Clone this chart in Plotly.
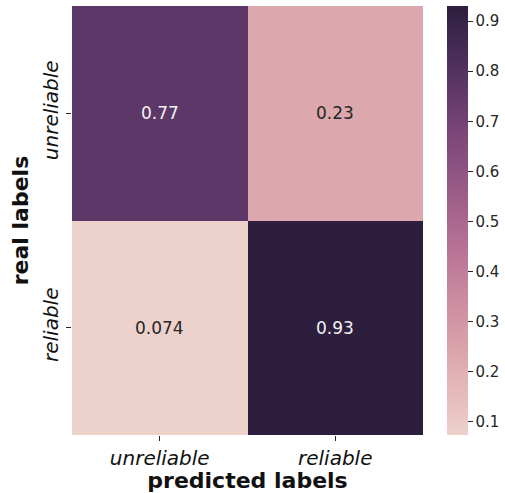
import numpy as np
import plotly.graph_objects as go

# Confusion matrix (row-normalised)
pred_labels = ["unreliable", "reliable"]
real_labels = ["unreliable", "reliable"]
row_unreliable = [0.77, 0.23]
row_reliable = [0.074, 0.93]
cbar_ticks = [0.1, 0.2, 0.3, 0.4, 0.5, 0.6, 0.7, 0.8, 0.9]

z = [row_unreliable, row_reliable]


def cubehelix_scale(n=21, start=0.0, rot=0.4, gamma=1.0, hue=0.8, light=0.85, dark=0.15):
    """Seaborn-style cubehelix palette as a Plotly colorscale (light -> dark)."""
    def chan(p0, p1, x):
        xg = x ** gamma
        a = hue * xg * (1 - xg) / 2
        phi = 2 * np.pi * (start / 3 + rot * x)
        return np.clip(xg + a * (p0 * np.cos(phi) + p1 * np.sin(phi)), 0, 1)

    scale = []
    for t in np.linspace(0, 1, n):
        x = light + (dark - light) * t
        r = chan(-0.14861, 1.78277, x)
        g = chan(-0.29227, -0.90649, x)
        b = chan(1.97294, 0.0, x)
        scale.append([float(t), "rgb(%d,%d,%d)" % (round(r * 255), round(g * 255), round(b * 255))])
    return scale


zmin = min(min(r) for r in z)
zmax = max(max(r) for r in z)

fig = go.Figure(
    go.Heatmap(
        z=z,
        x=pred_labels,
        y=real_labels,
        zmin=zmin,
        zmax=zmax,
        colorscale=cubehelix_scale(),
        xgap=0,
        ygap=0,
        hoverinfo="skip",
        colorbar=dict(
            x=(447 - 72) / 352,
            xanchor="left",
            xpad=0,
            y=0.5,
            yanchor="middle",
            len=1,
            ypad=0,
            thickness=21,
            outlinewidth=0,
            ticks="outside",
            ticklen=5,
            tickwidth=1,
            tickcolor="#262626",
            tickvals=cbar_ticks,
            tickformat=".1f",
            tickfont=dict(family="DejaVu Sans", size=15, color="#262626"),
        ),
    )
)

# cell annotations: light text on dark cells, dark text on light cells
for i, row in enumerate(z):
    for j, v in enumerate(row):
        frac = (v - zmin) / (zmax - zmin)
        fig.add_annotation(
            x=pred_labels[j],
            y=real_labels[i],
            text="%.2g" % v,
            showarrow=False,
            font=dict(family="DejaVu Sans", size=17,
                      color="#f2f2f2" if frac > 0.45 else "#262626"),
        )

fig.update_layout(
    width=505,
    height=493,
    margin=dict(l=72, r=81, t=6, b=58),
    paper_bgcolor="white",
    plot_bgcolor="white",
    xaxis=dict(
        showgrid=False,
        zeroline=False,
        showline=False,
        ticks="outside",
        ticklen=5,
        tickcolor="#262626",
        tickfont=dict(family="DejaVu Sans", size=20, color="#111111", style="italic"),
        title=dict(text="predicted labels", standoff=4,
                   font=dict(family="DejaVu Sans", size=22, color="#111111", weight="bold")),
        automargin=False,
    ),
    yaxis=dict(
        showgrid=False,
        zeroline=False,
        showline=False,
        autorange="reversed",
        ticks="outside",
        ticklen=5,
        tickcolor="#262626",
        tickangle=-90,
        tickfont=dict(family="DejaVu Sans", size=20, color="#111111", style="italic"),
        title=dict(text="real labels", standoff=4,
                   font=dict(family="DejaVu Sans", size=22, color="#111111", weight="bold")),
        automargin=False,
    ),
)

fig.write_html("out.html")
